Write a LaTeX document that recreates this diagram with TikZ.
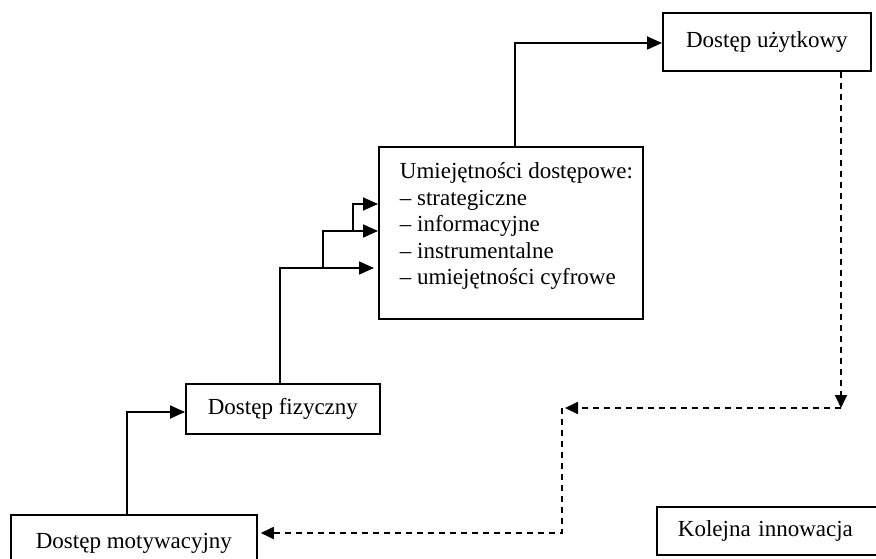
\documentclass[tikz,border=0pt]{standalone}
\usepackage{fontspec}
\setmainfont{Liberation Serif}
\usetikzlibrary{arrows.meta}
\begin{document}
\begin{tikzpicture}[
		x=1pt,y=-1pt,
		box/.style = {draw, line width=1.8pt, anchor=north west, inner sep=0pt, font=\fontsize{23}{26.4}\selectfont},
		inp/.style = {line width=1.8pt, -{Triangle[length=15pt,width=13pt]}},
		back/.style = {line width=1.8pt, dash pattern=on 6pt off 5pt, -{Triangle[length=13pt,width=12pt]}}
	]
	\useasboundingbox (0,0) rectangle (876,559);
	\clip (0,0) rectangle (876,559);
	\node (motyw) [box, minimum width=246pt, minimum height=56pt] at (10,514) {Dostęp motywacyjny};
	\node (fiz) [box, minimum width=194pt, minimum height=50pt] at (185,383) {Dostęp fizyczny};
	\node (umiej) [box] at (378,146) {\parbox[c][172pt][t]{264pt}{\raggedright\leftskip=21pt\vspace*{16pt}Umiejętności dostępowe:\\– strategiczne\\– informacyjne\\– instrumentalne\\– umiejętności cyfrowe}};
	\node (uzyt) [box, minimum width=208pt, minimum height=58pt] at (662,12) {Dostęp użytkowy};
	\node (kolej) [box, text width=215pt, align=left, inner xsep=21pt, minimum height=48pt] at (656,506) {Kolejna innowacja};
	\coordinate (turnA) at (127,412);
	\coordinate (turnB) at (280,268);
	\coordinate (tipB) at (374,268);
	\coordinate (turnC) at (323,231);
	\coordinate (turnD) at (353,204);
	\coordinate (turnE) at (515,43);
	\coordinate (turnF) at (841,408);
	\coordinate (turnG) at (562,408);
	\coordinate (turnH) at (562,533);
	
	\draw [inp] (turnA |- motyw.north) -- (turnA) -- (turnA -| fiz.west);
	\draw [inp] (turnB |- fiz.north) -- (turnB) -- (tipB);
	\draw [inp] (turnC |- turnB) -- (turnC) -- (turnC -| umiej.west);
	\draw [inp] (turnD |- turnC) -- (turnD) -- (turnD -| umiej.west);
	\draw [inp] (turnE |- umiej.north) -- (turnE) -- (turnE -| uzyt.west);
	\draw [back] (turnF |- uzyt.south) -- (turnF);
	\draw [back, shorten >=3pt] (turnF) -- (turnG);
	\draw [back, shorten >=3pt] (turnG) -- (turnH) -- (turnH -| motyw.east);
\end{tikzpicture}
\end{document}
